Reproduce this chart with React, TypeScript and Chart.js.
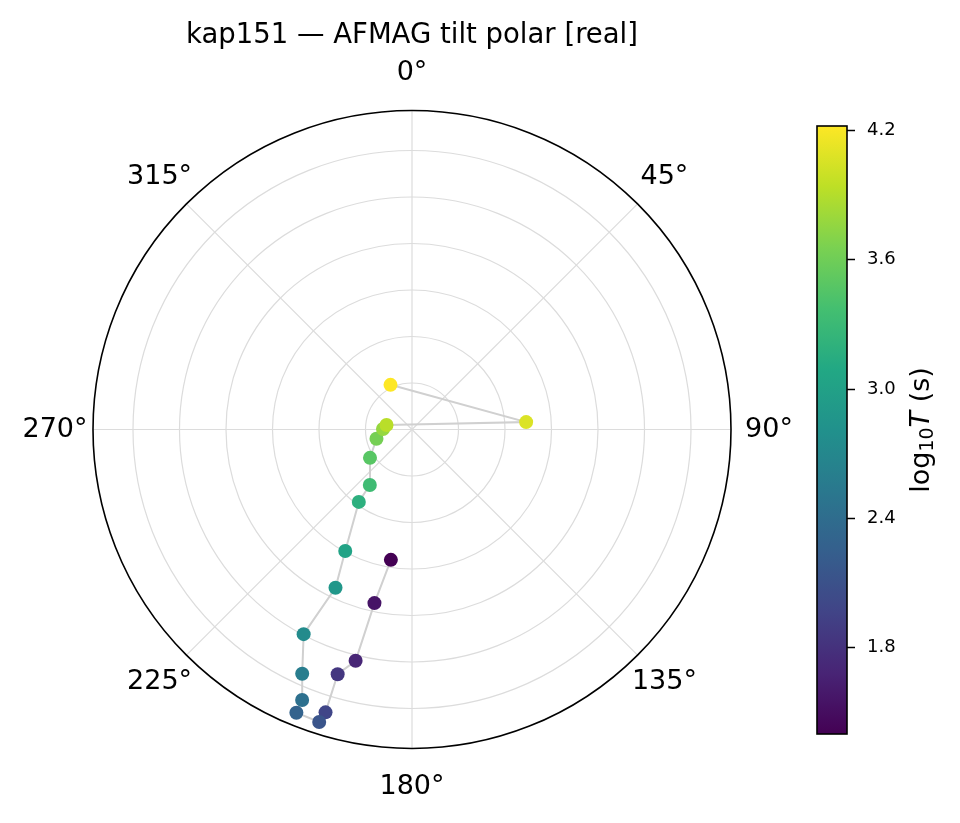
import { useEffect, useRef } from 'react';
import { Chart, registerables } from 'chart.js';

Chart.register(...registerables);

const FONT = '"DejaVu Sans", "Liberation Sans", sans-serif';

// tilt direction (deg, clockwise from north), tilt magnitude and log10 period per sample
const tiltAngle = [189.2, 192.2, 193.7, 196.9, 197.0, 197.6, 202.2, 202.1, 204.2, 207.9, 205.8, 208.8, 216.3, 217.2, 236.0, 255.3, 271.0, 280.0, 86.3, 334.3];
const tiltMagnitude = [0.142, 0.191, 0.256, 0.275, 0.318, 0.33, 0.329, 0.314, 0.288, 0.249, 0.189, 0.149, 0.0966, 0.075, 0.0545, 0.0395, 0.0312, 0.0278, 0.123, 0.0533];
const logPeriod = [1.4, 1.55, 1.7, 1.85, 1.99, 2.14, 2.29, 2.44, 2.59, 2.74, 2.88, 3.03, 3.18, 3.33, 3.48, 3.63, 3.77, 3.92, 4.07, 4.22];

const radialTicks = [0.05, 0.1, 0.15, 0.2, 0.25, 0.3];
const radialMax = 0.343;
const angleTicks = [0, 45, 90, 135, 180, 225, 270, 315];
const colorbarTicks = [1.8, 2.4, 3.0, 3.6, 4.2];

const VIRIDIS = ['#440154', '#482475', '#414487', '#355f8d', '#2a788e', '#21918c', '#22a884', '#44bf70', '#7ad151', '#bddf26', '#fde725'];

const hexRgb = (h: string) => [1, 3, 5].map((k) => parseInt(h.slice(k, k + 2), 16));

function viridis(t: number) {
  const c = Math.min(1, Math.max(0, t)) * (VIRIDIS.length - 1);
  const i = Math.min(Math.floor(c), VIRIDIS.length - 2);
  const f = c - i;
  const a = hexRgb(VIRIDIS[i]);
  const b = hexRgb(VIRIDIS[i + 1]);
  const m = a.map((v, k) => Math.round(v + (b[k] - v) * f));
  return `rgb(${m[0]},${m[1]},${m[2]})`;
}

const pMin = Math.min(...logPeriod);
const pMax = Math.max(...logPeriod);

const polarFrame = {
  id: 'polarFrame',
  beforeDatasetsDraw(chart: any) {
    const { ctx, scales } = chart;
    const cx = scales.x.getPixelForValue(0);
    const cy = scales.y.getPixelForValue(0);
    const R = scales.x.getPixelForValue(radialMax) - cx;
    ctx.save();
    ctx.strokeStyle = '#dcdcdc';
    ctx.lineWidth = 1.2;
    radialTicks.forEach((r) => {
      ctx.beginPath();
      ctx.arc(cx, cy, scales.x.getPixelForValue(r) - cx, 0, Math.PI * 2);
      ctx.stroke();
    });
    angleTicks.forEach((a) => {
      const t = (a * Math.PI) / 180;
      ctx.beginPath();
      ctx.moveTo(cx, cy);
      ctx.lineTo(cx + R * Math.sin(t), cy - R * Math.cos(t));
      ctx.stroke();
    });
    ctx.restore();
  },
  afterDatasetsDraw(chart: any) {
    const { ctx, scales } = chart;
    const cx = scales.x.getPixelForValue(0);
    const cy = scales.y.getPixelForValue(0);
    const R = scales.x.getPixelForValue(radialMax) - cx;
    ctx.save();
    ctx.strokeStyle = '#000';
    ctx.lineWidth = 1.6;
    ctx.beginPath();
    ctx.arc(cx, cy, R, 0, Math.PI * 2);
    ctx.stroke();

    ctx.fillStyle = '#000';
    ctx.font = `27px ${FONT}`;
    ctx.textAlign = 'center';
    ctx.textBaseline = 'middle';
    angleTicks.forEach((a) => {
      const t = (a * Math.PI) / 180;
      const d = R + 38;
      ctx.fillText(`${a}°`, cx + d * Math.sin(t), cy - d * Math.cos(t));
    });

    ctx.font = `27.5px ${FONT}`;
    ctx.textBaseline = 'alphabetic';
    ctx.fillText('kap151 — AFMAG tilt polar [real]', cx, 43);
    ctx.restore();
  },
};

const colorbarFrame = {
  id: 'colorbarFrame',
  beforeDatasetsDraw(chart: any) {
    const { ctx, chartArea: ca } = chart;
    const g = ctx.createLinearGradient(0, ca.bottom, 0, ca.top);
    VIRIDIS.forEach((c, i) => g.addColorStop(i / (VIRIDIS.length - 1), c));
    ctx.save();
    ctx.fillStyle = g;
    ctx.fillRect(ca.left, ca.top, ca.right - ca.left, ca.bottom - ca.top);
    ctx.strokeStyle = '#000';
    ctx.lineWidth = 1.6;
    ctx.strokeRect(ca.left, ca.top, ca.right - ca.left, ca.bottom - ca.top);

    // axis label: log10 T (s), rotated
    const mid = (ca.top + ca.bottom) / 2;
    ctx.translate(122, mid);
    ctx.rotate(-Math.PI / 2);
    ctx.fillStyle = '#000';
    ctx.textBaseline = 'middle';
    ctx.textAlign = 'left';
    const parts = [
      { s: 'log', f: `27px ${FONT}`, dy: 0 },
      { s: '10', f: `19px ${FONT}`, dy: 6 },
      { s: 'T', f: `italic 27px ${FONT}`, dy: 0 },
      { s: ' (s)', f: `27px ${FONT}`, dy: 0 },
    ];
    let w = 0;
    parts.forEach((p) => {
      ctx.font = p.f;
      w += ctx.measureText(p.s).width;
    });
    let x = -w / 2;
    parts.forEach((p) => {
      ctx.font = p.f;
      ctx.fillText(p.s, x, p.dy);
      x += ctx.measureText(p.s).width;
    });
    ctx.restore();
  },
};

export default function App() {
  const mainRef = useRef<HTMLCanvasElement>(null);
  const barRef = useRef<HTMLCanvasElement>(null);

  useEffect(() => {
    document.body.style.margin = '0';
    if (!mainRef.current || !barRef.current) return;

    const points = tiltAngle.map((a, i) => {
      const t = (a * Math.PI) / 180;
      return { x: tiltMagnitude[i] * Math.sin(t), y: tiltMagnitude[i] * Math.cos(t) };
    });
    const colors = logPeriod.map((p) => viridis((p - pMin) / (pMax - pMin)));

    const main = new Chart(mainRef.current, {
      type: 'scatter',
      data: {
        datasets: [
          {
            data: points,
            pointRadius: 7,
            pointHoverRadius: 7,
            pointBackgroundColor: colors,
            pointBorderWidth: 0,
            order: 0,
            clip: false,
          },
          {
            data: points,
            showLine: true,
            borderColor: '#d0d0d0',
            borderWidth: 2,
            pointRadius: 0,
            order: 1,
            clip: false,
          },
        ],
      },
      options: {
        animation: false,
        responsive: false,
        events: [],
        layout: { padding: { left: 93, right: 229, top: 110.5, bottom: 74.5 } },
        scales: {
          x: { type: 'linear', min: -radialMax, max: radialMax, display: false },
          y: { type: 'linear', min: -radialMax, max: radialMax, display: false },
        },
        plugins: { legend: { display: false }, tooltip: { enabled: false } },
      },
      plugins: [polarFrame],
    });

    const bar = new Chart(barRef.current, {
      type: 'scatter',
      data: { datasets: [{ data: [] }] },
      options: {
        animation: false,
        responsive: false,
        events: [],
        layout: { padding: { left: 17, right: 53, top: 26, bottom: 26 } },
        scales: {
          x: { type: 'linear', display: false, min: 0, max: 1 },
          y: {
            type: 'linear',
            position: 'right',
            min: pMin,
            max: pMax,
            afterBuildTicks: (s: any) => {
              s.ticks = colorbarTicks.map((v) => ({ value: v }));
            },
            afterFit: (s: any) => {
              s.width = 60;
            },
            ticks: {
              color: '#000',
              padding: 12,
              font: { family: FONT, size: 18 },
              callback: (v: any) => Number(v).toFixed(1),
            },
            grid: { drawOnChartArea: false, drawTicks: true, tickLength: 8, tickColor: '#000', tickWidth: 1.5 },
            border: { display: false },
          },
        },
        plugins: { legend: { display: false }, tooltip: { enabled: false } },
      },
      plugins: [colorbarFrame],
    });

    return () => {
      main.destroy();
      bar.destroy();
    };
  }, []);

  return (
    <div style={{ position: 'relative', width: 960, height: 823, background: '#fff' }}>
      <canvas ref={mainRef} width={960} height={823} style={{ position: 'absolute', left: 0, top: 0, width: 960, height: 823 }} />
      <canvas ref={barRef} width={160} height={660} style={{ position: 'absolute', left: 800, top: 100, width: 160, height: 660 }} />
    </div>
  );
}
